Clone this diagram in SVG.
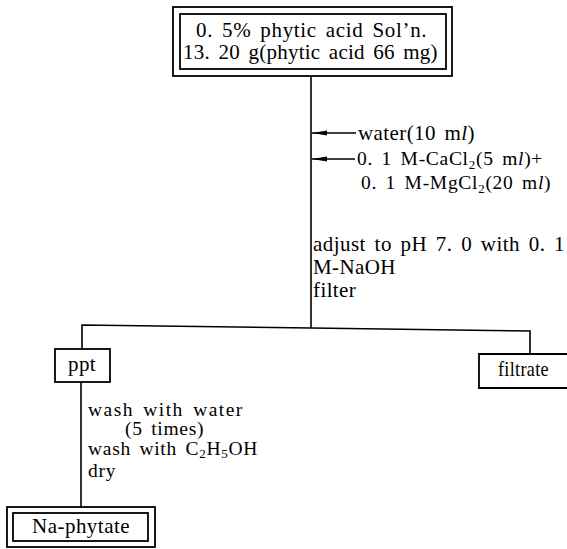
<svg xmlns="http://www.w3.org/2000/svg" width="567" height="549" viewBox="0 0 567 549">
<style>
text{font-family:"Liberation Serif","Times New Roman",serif;font-size:21px;fill:#000;letter-spacing:0.4px;word-spacing:3px}
.s{font-size:19.5px;letter-spacing:0.7px}
.b{fill:none;stroke:#000;stroke-width:1.8}
.l{fill:none;stroke:#000;stroke-width:1.6}
.sub{font-size:13px}
.it{font-style:italic}
</style>
<defs>
<marker id="ah" markerWidth="15" markerHeight="8" refX="15" refY="4" orient="auto" markerUnits="userSpaceOnUse">
<path d="M0,1.5 L15,4 L0,6.5 Z" fill="#000"/>
</marker>
</defs>
<rect width="567" height="549" fill="#fff"/>
<g id="connectors">
<line class="l" x1="311" y1="76" x2="311" y2="328"/>
<line class="l" x1="356" y1="133" x2="312" y2="133" marker-end="url(#ah)"/>
<line class="l" x1="355" y1="159" x2="312" y2="159" marker-end="url(#ah)"/>
<polyline class="l" points="82,349 82,325 311,328 530,331 530,354"/>
<line class="l" x1="81" y1="382" x2="81" y2="507"/>
</g>
<g id="n-start">
<rect class="b" x="173" y="7" width="279" height="69"/>
<rect class="b" x="180" y="14" width="266" height="55"/>
<text x="196" y="37" textLength="231" lengthAdjust="spacing">0. 5% phytic acid Sol’n.</text>
<text x="183" y="59" textLength="255" lengthAdjust="spacing">13. 20 g(phytic acid 66 mg)</text>
</g>
<g id="lbl-reagents">
<text x="358" y="140">water(10 m<tspan class="it">l</tspan>)</text>
<text class="s" x="357" y="165">0. 1 M-CaCl<tspan class="sub" dy="4">2</tspan><tspan dy="-4">(5 m</tspan><tspan class="it">l</tspan>)+</text>
<text class="s" x="361" y="189">0. 1 M-MgCl<tspan class="sub" dy="4">2</tspan><tspan dy="-4">(20 m</tspan><tspan class="it">l</tspan>)</text>
<text x="313" y="251" textLength="252" lengthAdjust="spacing">adjust to pH 7. 0 with 0. 1</text>
<text x="313" y="274">M-NaOH</text>
<text x="313" y="297">filter</text>
</g>
<g id="n-ppt">
<rect class="b" x="55" y="349" width="55" height="33"/>
<text x="68" y="371">ppt</text>
</g>
<g id="n-filtrate">
<path class="b" d="M568,354 L479,354 L479,388 L568,388"/>
<text x="498" y="376" textLength="51" lengthAdjust="spacingAndGlyphs">filtrate</text>
</g>
<g id="lbl-wash">
<text class="s" x="88" y="416" textLength="155" lengthAdjust="spacing">wash with water</text>
<text class="s" x="125" y="435">(5 times)</text>
<text class="s" x="88" y="455">wash with C<tspan class="sub" dy="3">2</tspan><tspan dy="-3">H</tspan><tspan class="sub" dy="3">5</tspan><tspan dy="-3">OH</tspan></text>
<text class="s" x="88" y="477">dry</text>
</g>
<g id="n-naphytate">
<rect class="b" x="7" y="507" width="148" height="40"/>
<rect class="b" x="13" y="513" width="135" height="28"/>
<text x="32" y="533" textLength="98" lengthAdjust="spacing">Na-phytate</text>
</g>
</svg>
